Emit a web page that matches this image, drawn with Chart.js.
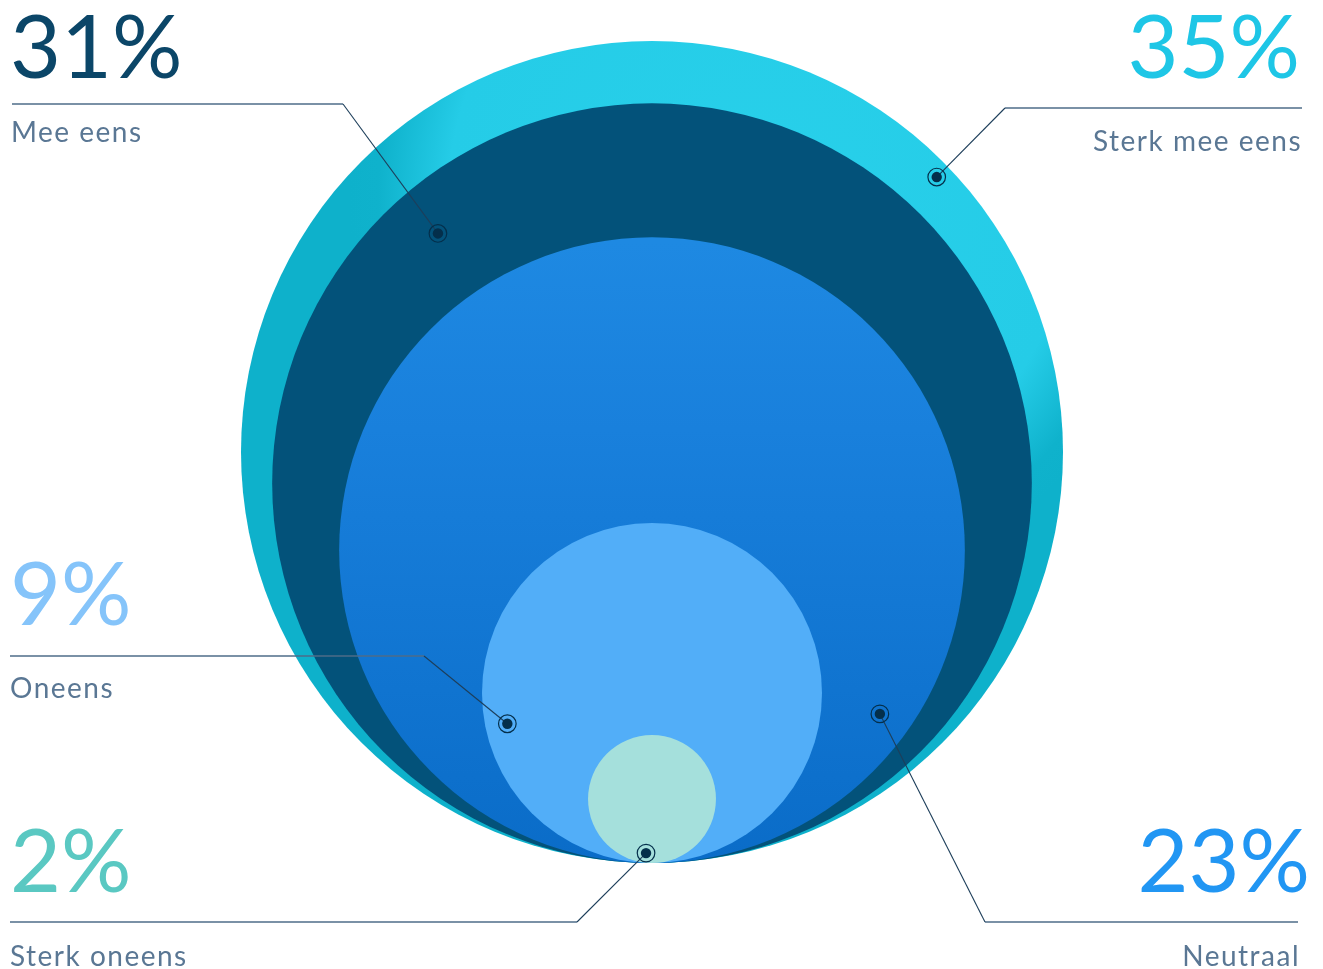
<!DOCTYPE html>
<html>
<head>
<meta charset="utf-8">
<script src="https://cdn.jsdelivr.net/npm/chart.js@4"></script>
<style>
  html, body { margin: 0; padding: 0; background: #ffffff; }
  canvas { display: block; }
</style>
</head>
<body>
<canvas id="bubbles" width="1323" height="969"></canvas>
<script>
// Survey answers, largest share first so the big circle is painted underneath
const categories = ['Sterk mee eens', 'Mee eens', 'Neutraal', 'Oneens', 'Sterk oneens'];
const percentages = [35, 31, 23, 9, 2];

// circle diameter (in y-axis units) grows with the share, damped so small shares stay visible
const sizeExponent = 0.65;
const diameterOf = v => Math.pow(v, sizeExponent);

const fillColors = ['#0eb1cb', '#03527a', '#1a84de', '#52aef8', '#a5e0dc'];

// where each callout sits: big number, rule, label and the dot inside its circle
const callouts = [
    { align: 'right', numX: 1300, numY: 78, ruleY: 108, ruleFrom: 1005, ruleTo: 1302, elbowX: 1005, labelX: 1302, labelY: 151, angle: -44, depth: 0.963, color: '#1ec6e6' },
    { align: 'left', numX: 10, numY: 78, ruleY: 104, ruleFrom: 12, ruleTo: 343, elbowX: 343, labelX: 11, labelY: 142, angle: -130.6, depth: 0.866, color: '#0b4668' },
    { align: 'right', numX: 1310, numY: 892, ruleY: 922, ruleFrom: 985, ruleTo: 1298, elbowX: 985, labelX: 1300, labelY: 966, angle: 35.7, depth: 0.897, color: '#2196f3' },
    { align: 'left', numX: 10, numY: 625, ruleY: 656, ruleFrom: 10, ruleTo: 424, elbowX: 424, labelX: 10, labelY: 698, angle: 168, depth: 0.87, color: '#85c4fa' },
    { align: 'left', numX: 10, numY: 892, ruleY: 922, ruleFrom: 10, ruleTo: 577, elbowX: 577, labelX: 10, labelY: 966, angle: 96.3, depth: 0.85, color: '#5ac8c2' }
];

const maxDiameter = diameterOf(Math.max(...percentages));

function circleFill(context) {
    const i = context.dataIndex;
    const area = context.chart.chartArea;
    if (!area || i === undefined) return fillColors[i] || fillColors[0];
    const ctx = context.chart.ctx;
    const w = area.right - area.left;
    if (i === 0) {
        // lighter cyan washing over the top and upper right of the outer circle
        const cx = area.left + w * 0.632;
        const cy = area.top + w * 0.193;
        const g = ctx.createRadialGradient(cx, cy, 0, cx, cy, w * 0.5);
        g.addColorStop(0, '#28d0ea');
        g.addColorStop(0.76, '#25cce7');
        g.addColorStop(0.93, '#0fb2cc');
        g.addColorStop(1, '#0eb1cb');
        return g;
    }
    if (i === 2) {
        const g = ctx.createLinearGradient(0, area.bottom - 620, 0, area.bottom);
        g.addColorStop(0, '#1e89e2');
        g.addColorStop(0.3, '#1980dc');
        g.addColorStop(1, '#0a6cc8');
        return g;
    }
    return fillColors[i];
}

// radius in pixels = the circle's half-diameter measured on the y axis
function circleRadius(context) {
    const y = context.chart.scales.y;
    const v = percentages[context.dataIndex];
    if (!y || v === undefined) return 0;
    const r = y.getPixelForValue(0) - y.getPixelForValue(diameterOf(v) / 2);
    return Number.isFinite(r) ? r : 0;
}

const calloutPlugin = {
    id: 'callouts',
    afterDatasetsDraw(chart) {
        const ctx = chart.ctx;
        const points = chart.getDatasetMeta(0).data;
        ctx.save();
        points.forEach((pt, i) => {
            const c = callouts[i];
            const r = pt.options.radius;
            const a = c.angle * Math.PI / 180;
            const dx = pt.x + Math.cos(a) * r * c.depth;
            const dy = pt.y + Math.sin(a) * r * c.depth;

            // rule along the label, then the leader down to the dot
            ctx.strokeStyle = '#4e6c88';
            ctx.lineWidth = 1.4;
            ctx.beginPath();
            ctx.moveTo(c.align === 'left' ? c.ruleFrom : c.ruleTo, c.ruleY);
            ctx.lineTo(c.elbowX, c.ruleY);
            ctx.stroke();
            ctx.strokeStyle = '#1d3e5a';
            ctx.lineWidth = 1.1;
            ctx.beginPath();
            ctx.moveTo(c.elbowX, c.ruleY);
            ctx.lineTo(dx, dy);
            ctx.stroke();

            // dot with ring
            ctx.fillStyle = '#042f4b';
            ctx.beginPath();
            ctx.arc(dx, dy, 5.2, 0, Math.PI * 2);
            ctx.fill();
            ctx.strokeStyle = '#042f4b';
            ctx.lineWidth = 1.2;
            ctx.beginPath();
            ctx.arc(dx, dy, 8.8, 0, Math.PI * 2);
            ctx.stroke();

            // big percentage
            ctx.textAlign = c.align;
            ctx.textBaseline = 'alphabetic';
            ctx.letterSpacing = '0px';
            ctx.fillStyle = c.color;
            ctx.font = '400 88px Lato, "Open Sans", sans-serif';
            ctx.fillText(percentages[i] + '%', c.numX, c.numY);

            // answer label
            ctx.fillStyle = '#5a7794';
            ctx.font = '400 28px Lato, "Open Sans", sans-serif';
            ctx.letterSpacing = '1.5px';
            ctx.fillText(categories[i], c.labelX, c.labelY);
        });
        ctx.restore();
    }
};

new Chart(document.getElementById('bubbles'), {
    type: 'scatter',
    data: {
        labels: categories,
        datasets: [{
            data: percentages.map(v => ({ x: 0, y: diameterOf(v) / 2 })),
            showLine: false,
            clip: false,
            pointBackgroundColor: circleFill,
            pointBorderWidth: 0,
            pointRadius: circleRadius
        }]
    },
    options: {
        responsive: false,
        animation: false,
        events: [],
        layout: { padding: { left: 241, right: 260, top: 41, bottom: 106 } },
        scales: {
            x: { display: false, min: -1, max: 1 },
            y: { display: false, min: 0, max: maxDiameter }
        },
        plugins: {
            legend: { display: false },
            tooltip: { enabled: false }
        }
    },
    plugins: [calloutPlugin]
});
</script>
</body>
</html>
